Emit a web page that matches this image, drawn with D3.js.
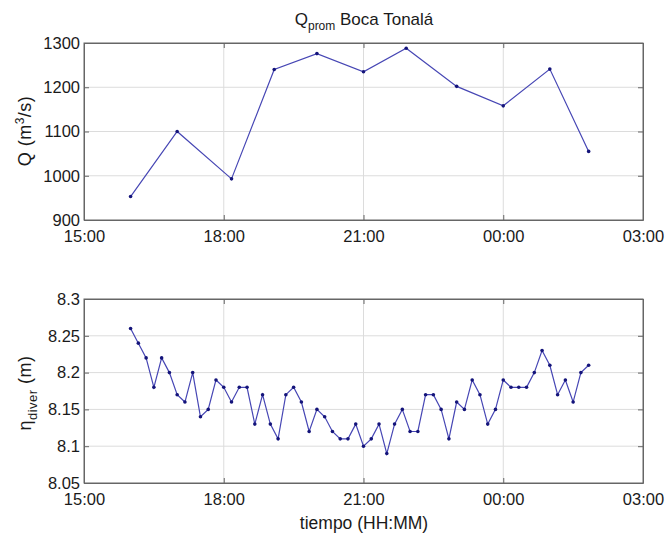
<!DOCTYPE html>
<html>
<head>
<meta charset="utf-8">
<script src="https://cdn.jsdelivr.net/npm/d3@7"></script>
<style>
  body { margin: 0; background: #fff; }
  svg text { font-family: "Liberation Sans", Arial, sans-serif; fill: #1a1a1a; }
</style>
</head>
<body>
<div id="chart-container"></div>
<script>
// Q prom (caudal promedio), m3/s
const qTimes = ['16:00', '17:00', '18:10', '19:05', '20:00', '21:00', '21:55', '23:00', '00:00', '01:00', '01:50'];
const qValues = [953, 1100, 993, 1240, 1276, 1235, 1288, 1202, 1158, 1241, 1055];

// eta diver (m), one reading every 10 minutes starting at 16:00
const etaStart = '16:00';
const etaStepMin = 10;
const etaValues = [
  8.26, 8.24, 8.22, 8.18, 8.22, 8.20, 8.17, 8.16, 8.20, 8.14,
  8.15, 8.19, 8.18, 8.16, 8.18, 8.18, 8.13, 8.17, 8.13, 8.11,
  8.17, 8.18, 8.16, 8.12, 8.15, 8.14, 8.12, 8.11, 8.11, 8.13,
  8.10, 8.11, 8.13, 8.09, 8.13, 8.15, 8.12, 8.12, 8.17, 8.17,
  8.15, 8.11, 8.16, 8.15, 8.19, 8.17, 8.13, 8.15, 8.19, 8.18,
  8.18, 8.18, 8.20, 8.23, 8.21, 8.17, 8.19, 8.16, 8.20, 8.21
];

const xTicks = ['15:00', '18:00', '21:00', '00:00', '03:00'];
const qTicks = [900, 1000, 1100, 1200, 1300];
const etaTicks = [8.05, 8.1, 8.15, 8.2, 8.25, 8.3];

const chartWidth = 666;
const chartHeight = 534;
const left = 84;
const right = 643;

// HH:MM -> Date; early-morning hours belong to the next day
const toDate = (s) => {
  const [h, m] = s.split(':').map(Number);
  return new Date(2000, 0, h < 12 ? 2 : 1, h, m);
};

const etaTimes = etaValues.map((v, i) =>
  d3.timeMinute.offset(toDate(etaStart), i * etaStepMin));

const svg = d3.select('#chart-container')
  .append('svg')
  .attr('width', chartWidth)
  .attr('height', chartHeight);

const xScale = d3.scaleTime()
  .domain([toDate(xTicks[0]), toDate(xTicks[xTicks.length - 1])])
  .range([left, right]);

const drawPanel = (top, bottom, yDomain, yTicks, yFmt, times, values) => {
  const yScale = d3.scaleLinear().domain(yDomain).range([bottom, top]);
  const g = svg.append('g');
  const tickDates = xTicks.map(toDate);

  // grid
  g.append('g').selectAll('line')
    .data(tickDates.slice(1, -1))
    .join('line')
    .attr('x1', (d) => xScale(d)).attr('x2', (d) => xScale(d))
    .attr('y1', top).attr('y2', bottom)
    .attr('stroke', '#dcdcdc').attr('stroke-width', 1);
  g.append('g').selectAll('line')
    .data(yTicks.slice(1, -1))
    .join('line')
    .attr('x1', left).attr('x2', right)
    .attr('y1', (d) => yScale(d)).attr('y2', (d) => yScale(d))
    .attr('stroke', '#dcdcdc').attr('stroke-width', 1);

  // axes (ticks pointing inward, on all four sides)
  const xAxis = d3.axisBottom(xScale).tickValues(tickDates)
    .tickFormat(d3.timeFormat('%H:%M')).tickSizeInner(-5).tickSizeOuter(0).tickPadding(10);
  const yAxis = d3.axisLeft(yScale).tickValues(yTicks)
    .tickFormat(yFmt).tickSizeInner(-5).tickSizeOuter(0).tickPadding(4);

  g.append('g').attr('transform', `translate(0,${bottom})`).call(xAxis);
  g.append('g').attr('transform', `translate(0,${top})`)
    .call(d3.axisTop(xScale).tickValues(tickDates).tickFormat('').tickSizeInner(-5).tickSizeOuter(0));
  g.append('g').attr('transform', `translate(${left},0)`).call(yAxis);
  g.append('g').attr('transform', `translate(${right},0)`)
    .call(d3.axisRight(yScale).tickValues(yTicks).tickFormat('').tickSizeInner(-5).tickSizeOuter(0));

  g.selectAll('.domain').attr('stroke', '#666');
  g.selectAll('.tick line').attr('stroke', '#666');
  g.selectAll('.tick text').style('font-size', '16.5px').attr('fill', '#1a1a1a');

  // box
  g.append('rect')
    .attr('x', left).attr('y', top)
    .attr('width', right - left).attr('height', bottom - top)
    .attr('fill', 'none').attr('stroke', '#666').attr('stroke-width', 1);

  // series
  const pts = times.map((t, i) => [t, values[i]]);
  g.append('path')
    .datum(pts)
    .attr('fill', 'none')
    .attr('stroke', '#4646b4')
    .attr('stroke-width', 1.2)
    .attr('d', d3.line().x((d) => xScale(d[0])).y((d) => yScale(d[1])));
  g.selectAll('circle')
    .data(pts)
    .join('circle')
    .attr('cx', (d) => xScale(d[0]))
    .attr('cy', (d) => yScale(d[1]))
    .attr('r', 1.8)
    .attr('fill', '#14147a');

  return yScale;
};

drawPanel(43, 220, [900, 1300], qTicks, d3.format('d'),
  qTimes.map(toDate), qValues);
drawPanel(299, 483, [8.05, 8.3], etaTicks, (d) => String(+d.toFixed(2)),
  etaTimes, etaValues);

// title
const title = svg.append('text')
  .attr('x', 364).attr('y', 25)
  .attr('text-anchor', 'middle')
  .style('font-size', '17px');
title.append('tspan').text('Q');
title.append('tspan').attr('dy', 5).style('font-size', '12px').text('prom');
title.append('tspan').attr('dy', -5).text(' Boca Tonalá');

// y labels
const yl1 = svg.append('text')
  .attr('transform', 'translate(31,131) rotate(-90)')
  .attr('text-anchor', 'middle')
  .style('font-size', '18px')
  .style('letter-spacing', '0.5px');
yl1.append('tspan').text('Q (m');
yl1.append('tspan').attr('dy', -7).style('font-size', '12px').text('3');
yl1.append('tspan').attr('dy', 7).text('/s)');

const yl2 = svg.append('text')
  .attr('transform', 'translate(31,393) rotate(-90)')
  .attr('text-anchor', 'middle')
  .style('font-size', '18px')
  .style('letter-spacing', '0.5px');
yl2.append('tspan').text('η');
yl2.append('tspan').attr('dy', 6).style('font-size', '13px').text('diver');
yl2.append('tspan').attr('dy', -6).text(' (m)');

// x label
svg.append('text')
  .attr('x', 364).attr('y', 529)
  .attr('text-anchor', 'middle')
  .style('font-size', '17.5px')
  .text('tiempo (HH:MM)');
</script>
</body>
</html>
